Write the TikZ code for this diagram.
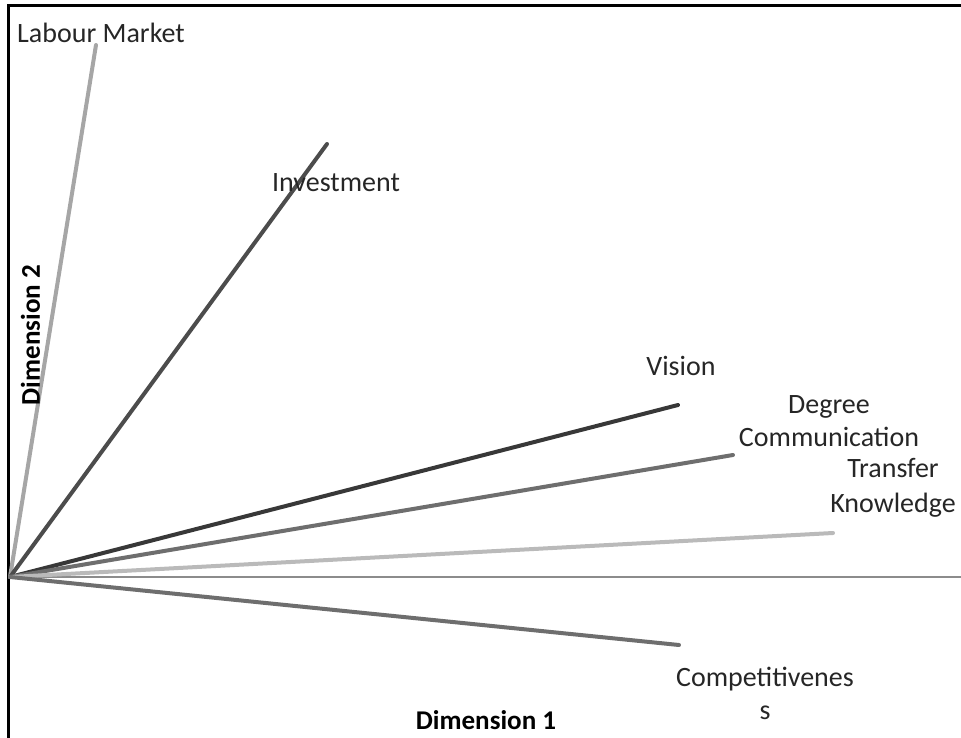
\documentclass[tikz,border=0pt]{standalone}
\usepackage{fontspec}
\setmainfont{Carlito}
\usepackage{tikz}

\tikzset{
  vec/.style={line width=3pt, line cap=round},
  lbl/.style={inner sep=0pt, anchor=base, text=black!85, font=\fontsize{21}{25}\selectfont},
  dim/.style={inner sep=0pt, anchor=base, font=\fontsize{20.3}{24}\selectfont\bfseries}
}

\begin{document}
\begin{tikzpicture}[x=0.75pt, y=-0.75pt]
			\useasboundingbox (0,0) rectangle (961,738);
			% frame and axis
			\draw[line width=1.9pt] (8.5,738) -- (8.5,5.7) -- (961,5.7);
			\coordinate (o) at (10,577);
			\coordinate (xe) at (961,577);
			\draw[line width=1.1pt, color=black!45] (o) -- (xe);
			% vector ends
			\coordinate (lm) at (96,45);
			\coordinate (inv) at (327,144);
			\coordinate (vis) at (678,405);
			\coordinate (dc) at (733,455);
			\coordinate (tk) at (833,533);
			\coordinate (cmp) at (679,645);
			\draw[vec, color=black!35] (o) -- (lm);
			\draw[vec, color=black!70] (o) -- (inv);
			\draw[vec, color=black!78] (o) -- (vis);
			\draw[vec, color=black!57] (o) -- (dc);
			\draw[vec, color=black!27] (o) -- (tk);
			\draw[vec, color=black!57] (o) -- (cmp);
			% labels
			\node[lbl] (t1) at (101,43) {Labour Market};
			\node[lbl] (t2) at (336,192) {Investment};
			\node[lbl] (t3) at (681,375) {Vision};
			\node[lbl] (t4) at (829,413) {Degree};
			\node[lbl] (t5) at (829,446) {Communication};
			\node[lbl] (t6) at (893,477) {Transfer};
			\node[lbl] (t7) at (893,512) {Knowledge};
			\node[lbl] (t8) at (765,686) {Competitivenes};
			\node[lbl] (t9) at (765,719) {s};
			\node[dim] (d1) at (486,729) {Dimension 1};
			\node[dim, rotate=90] (d2) at (40,335) {Dimension 2};
		\end{tikzpicture}
\end{document}
